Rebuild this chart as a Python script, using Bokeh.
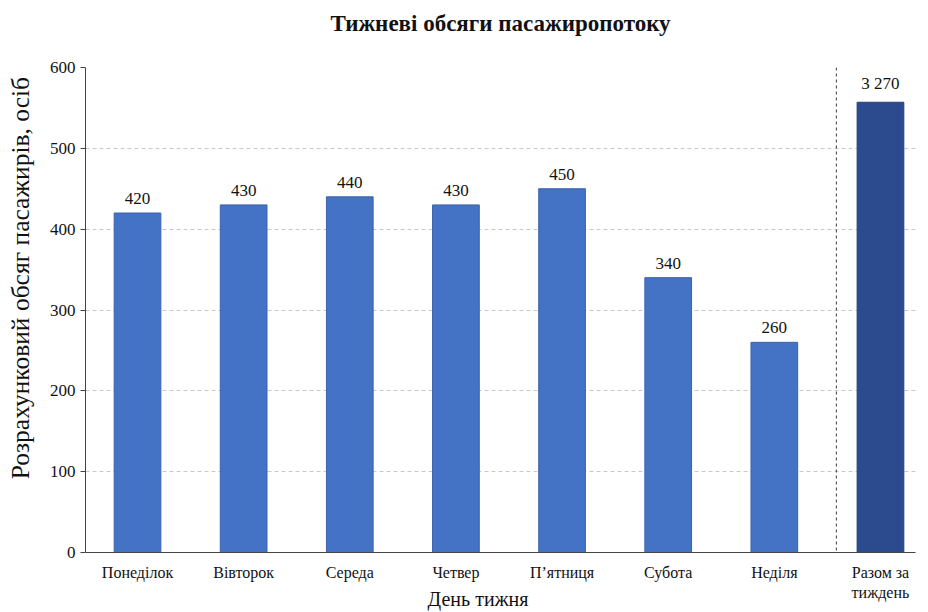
from bokeh.plotting import figure
from bokeh.models import ColumnDataSource, FixedTicker, Span, Range1d
from bokeh.core.properties import value
from bokeh.embed import file_html
from bokeh.resources import INLINE

# ---- data ----
days = ["Понеділок", "Вівторок", "Середа", "Четвер", "П’ятниця", "Субота", "Неділя"]
day_values = [420, 430, 440, 430, 450, 340, 260]
total_label = "Разом за\nтиждень"
total_value = 3270
total_bar_display = 557   # height at which the (off-scale) total bar is drawn
y_ticks = [0, 100, 200, 300, 400, 500, 600]
chart_title = "Тижневі обсяги пасажиропотоку"
x_title = "День тижня"
y_title = "Розрахунковий обсяг пасажирів, осіб"

FONT = "Liberation Serif"
DAY_COLOR = "#4472C4"
TOTAL_COLOR = "#2C4A8E"
NBSP = "\u00a0"

xs = list(range(len(days)))
x_total = len(days)

def fmt(v):
    return f"{v:,}".replace(",", " ")

day_src = ColumnDataSource(dict(x=xs, top=day_values, lab=[fmt(v) for v in day_values]))
tot_src = ColumnDataSource(dict(x=[x_total], top=[total_bar_display], lab=[fmt(total_value)]))

p = figure(width=928, height=612, output_backend="svg", toolbar_location=None,
           x_range=Range1d(-0.49, 7.33), y_range=Range1d(0, 600),
           min_border_left=85, min_border_right=13, min_border_top=67, min_border_bottom=60,
           title=chart_title + "\n" + NBSP)
p.outline_line_color = None

p.title.text_font = FONT
p.title.text_font_size = "23px"
p.title.text_font_style = "bold"
p.title.align = "center"
p.title.text_color = "#111111"
p.title.offset = 0
p.title.standoff = 13

bw = 0.44
p.vbar(x="x", top="top", width=bw, source=day_src, fill_color=DAY_COLOR,
       line_color="#3A62AE", line_width=1)
p.vbar(x="x", top="top", width=bw, source=tot_src, fill_color=TOTAL_COLOR,
       line_color="#243F7A", line_width=1)

for src in (day_src, tot_src):
    p.text(x="x", y="top", text="lab", source=src, text_font=value(FONT),
           text_align="center", text_baseline="bottom", y_offset=-9,
           text_font_size="17px", text_color="#111111")

sep = Span(location=6.585, dimension="height", line_color="#555555",
           line_dash="3 3", line_width=1.2)
p.add_layout(sep)

# axes
p.xaxis.ticker = FixedTicker(ticks=xs + [x_total])
p.xaxis.major_label_overrides = {**{i: d for i, d in enumerate(days)}, x_total: total_label}
p.xaxis.major_tick_line_color = None
p.xaxis.minor_tick_line_color = None
p.xaxis.major_label_text_font = FONT
p.xaxis.major_label_text_font_size = "16px"
p.xaxis.major_label_text_color = "#111111"
p.xaxis.major_label_standoff = 5
p.xaxis.axis_line_color = "#444444"
p.xaxis.axis_label = x_title + NBSP * 9
p.xaxis.axis_label_text_font = FONT
p.xaxis.axis_label_text_font_size = "20px"
p.xaxis.axis_label_text_font_style = "normal"
p.xaxis.axis_label_text_color = "#111111"
p.xaxis.axis_label_standoff = -16

p.yaxis.ticker = FixedTicker(ticks=y_ticks)
p.yaxis.minor_tick_line_color = None
p.yaxis.major_tick_out = 5
p.yaxis.major_tick_in = 0
p.yaxis.major_tick_line_color = "#444444"
p.yaxis.axis_line_color = "#444444"
p.yaxis.major_label_text_font = FONT
p.yaxis.major_label_text_font_size = "17px"
p.yaxis.major_label_text_color = "#111111"
p.yaxis.major_label_standoff = 5
p.yaxis.axis_label = NBSP * 10 + y_title
p.yaxis.axis_label_text_font = FONT
p.yaxis.axis_label_text_font_size = "25.5px"
p.yaxis.axis_label_text_font_style = "normal"
p.yaxis.axis_label_text_color = "#111111"
p.yaxis.axis_label_standoff = 12

p.xgrid.grid_line_color = None
p.ygrid.grid_line_color = "#C8C8C8"
p.ygrid.grid_line_dash = "4 3"

open("out.html", "w").write(file_html(p, INLINE))
